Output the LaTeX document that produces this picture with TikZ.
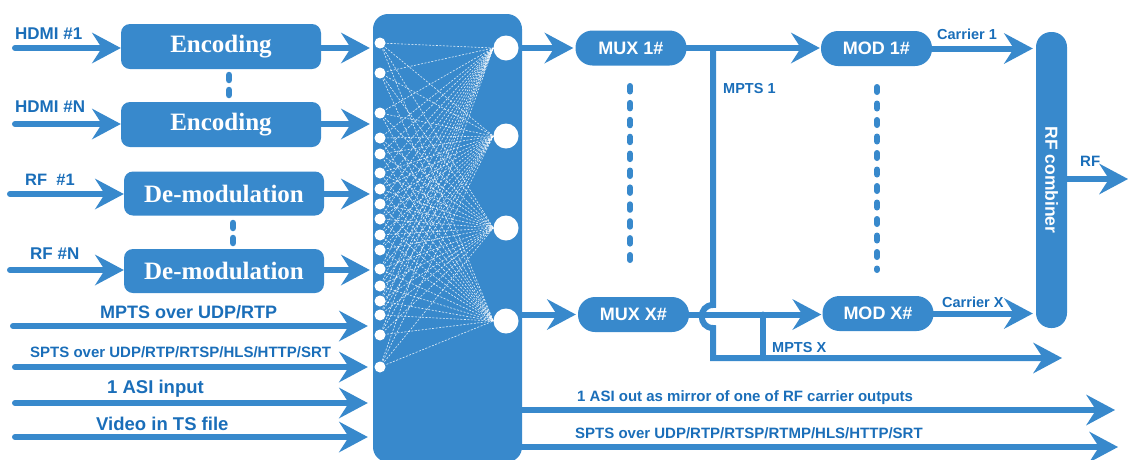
\documentclass[tikz,border=0pt]{standalone}
\usepackage{fontspec}
\setmainfont{Liberation Serif}
\setsansfont{Liberation Sans}
\usetikzlibrary{arrows.meta}
\definecolor{mb}{RGB}{56,137,204}
\definecolor{tb}{RGB}{26,110,185}
\tikzset{
  arr/.style={line width=6pt, draw=mb, line cap=round, -{Stealth[length=29pt,width=31pt,inset=10pt,line width=0pt]}},
  ln/.style={line width=6pt, draw=mb, line cap=round},
  blk/.style={draw=none, fill=mb, text=white, inner sep=0pt},
  serifbox/.style={blk, rounded corners=9pt, minimum width=200pt, minimum height=45pt, font=\fontsize{25}{25}\selectfont\bfseries},
  pill/.style={blk, rounded corners=17pt, minimum width=111pt, minimum height=35pt, font=\sffamily\bfseries\fontsize{18}{18}\selectfont},
  lbl/.style={text=tb, inner sep=0pt, anchor=base west, font=\sffamily\bfseries\fontsize{#1}{#1}\selectfont},
  lbl/.default=17,
  dotcol/.style={line width=6.5pt, draw=mb, line cap=round},
  mesh/.style={draw=white, line width=0.6pt, dash pattern=on 2pt off 1.5pt, opacity=0.85},
}
\begin{document}
\begin{tikzpicture}[x=1pt,y=-1pt]
\useasboundingbox (0,0) rectangle (1128,459);

% central matrix block
\node[blk, rounded corners=15pt, minimum width=149pt, minimum height=448pt] (mx) at (447.5,238) {};

% processing boxes
\node[serifbox] (enc1) at (221,46.5) {Encoding};
\node[serifbox] (enc2) at (221,124.5) {Encoding};
\node[serifbox, minimum height=44pt] (dem1) at (224,193.5) {De-modulation};
\node[serifbox, minimum height=44pt] (dem2) at (224,271) {De-modulation};
\node[pill] (mux1) at (631,48) {MUX 1\#};
\node[pill] (muxx) at (633.5,314.5) {MUX X\#};
\node[pill] (mod1) at (876.5,48.5) {MOD 1\#};
\node[pill] (modx) at (878,313.5) {MOD X\#};
\node[blk, rounded corners=15pt, minimum width=31pt, minimum height=296pt] (comb) at (1051.5,180) {};
\node[text=white, rotate=-90, inner sep=0pt, font=\sffamily\bfseries\fontsize{17.5}{17.5}\selectfont] (combt) at (comb) {RF combiner};

% dots between boxes
\draw[dotcol] (229,75) -- (229,80) (229,90) -- (229,95);
\draw[dotcol] (233,223) -- (233,228) (233,238) -- (233,243);
\draw[line width=6pt, draw=mb, line cap=round, dash pattern=on 5.5pt off 11.4pt] (630,86) -- (630,260);
\draw[line width=6pt, draw=mb, line cap=round, dash pattern=on 5pt off 11.5pt] (877,87) -- (877,270);

% circles inside the matrix
\foreach \yy [count=\i] in {43,73,113,138,154,173,189,204,219,235,250,269,286,301,315,335,367}
  \node[circle, fill=white, inner sep=0pt, minimum size=11pt] (s\i) at (380,\yy) {};
\foreach \yy [count=\j] in {48,136,228,321}
  \node[circle, fill=white, inner sep=0pt, minimum size=25pt] (c\j) at (506,\yy) {};
\foreach \i in {1,...,17}
  \foreach \j in {1,...,4}
    \draw[mesh] (s\i.center) -- (c\j.west);

% input labels
\node[lbl] (l1) at (15,39) {HDMI \#1};
\node[lbl] (l2) at (15,112) {HDMI \#N};
\node[lbl=16.5] (l3) at (25,185.5) {RF\ \ \#1};
\node[lbl] (l4) at (30,259) {RF \#N};
\node[lbl=18] (l5) at (100,318.5) {MPTS over UDP/RTP};
\node[lbl=15] (l6) at (30,357) {SPTS over UDP/RTP/RTSP/HLS/HTTP/SRT};
\node[lbl=18.5] (l7) at (107,393) {1 ASI input};
\node[lbl=18.5] (l8) at (96,430) {Video in TS file};

% input arrows
\coordinate (i1) at (15,48);
\coordinate (i2) at (15,124);
\coordinate (i3) at (10,194);
\coordinate (i4) at (10,270);
\coordinate (i5) at (13,326);
\coordinate (i6) at (15,367);
\coordinate (i7) at (15,403);
\coordinate (i8) at (15,437);
\draw[arr] (i1) -- (i1 -| enc1.west);
\draw[arr] (i2) -- (i2 -| enc2.west);
\draw[arr] (i3) -- (i3 -| dem1.west);
\draw[arr] (i4) -- (i4 -| dem2.west);
\draw[arr, shorten >=3pt] (enc1.east |- i1) -- (i1 -| mx.west);
\draw[arr, shorten >=3pt] (enc2.east |- i2) -- (i2 -| mx.west);
\draw[arr, shorten >=3pt] (dem1.east |- i3) -- (i3 -| mx.west);
\draw[arr, shorten >=3pt] (dem2.east |- i4) -- (i4 -| mx.west);
\draw[arr, shorten >=5pt] (i5) -- (i5 -| mx.west);
\draw[arr, shorten >=5pt] (i6) -- (i6 -| mx.west);
\draw[arr, shorten >=5pt] (i7) -- (i7 -| mx.west);
\draw[arr, shorten >=5pt] (i8) -- (i8 -| mx.west);

% matrix to MUX
\draw[arr, shorten >=2pt] (mx.east |- mux1) -- (mux1.west);
\draw[arr, shorten >=2pt] (mx.east |- muxx) -- (muxx.west);

% MUX to MOD
\draw[arr, shorten >=1pt] (mux1.east) -- (mux1.east -| mod1.west);
\draw[arr, shorten >=1pt] (muxx.east) -- (muxx.east -| modx.west);

% MPTS tap lines
\coordinate (j1) at (713,48);
\coordinate (mpx) at (1062,358);
\draw[arr] (j1) -- (713,305) .. controls (698,305) and (698,328) .. (713,328) -- (713,358) -- (mpx);
\draw[ln] (763,314.5) -- (763,358);
\node[lbl=14.5] (m1) at (723,93) {MPTS 1};
\node[lbl=14.5] (m2) at (772,352) {MPTS X};

% MOD to combiner
\draw[arr, shorten >=3pt] (mod1.east) -- (mod1.east -| comb.west);
\draw[arr, shorten >=3pt] (modx.east) -- (modx.east -| comb.west);
\node[lbl=14.5] (ca1) at (937,39) {Carrier 1};
\node[lbl=14.5] (cax) at (942,307) {Carrier X};

% RF out
\coordinate (rfo) at (1128,179);
\draw[arr] (comb.east |- rfo) -- (rfo);
\node[lbl=15] (rfl) at (1080,166) {RF};

% bottom outputs
\coordinate (o1) at (1115,410);
\coordinate (o2) at (1118,447);
\draw[arr] (mx.east |- o1) -- (o1);
\draw[arr] (mx.east |- o2) -- (o2);
\node[lbl=15] (ol1) at (577,401) {1 ASI out as mirror of one of RF carrier outputs};
\node[lbl=15] (ol2) at (575,438) {SPTS over UDP/RTP/RTSP/RTMP/HLS/HTTP/SRT};
\end{tikzpicture}
\end{document}
